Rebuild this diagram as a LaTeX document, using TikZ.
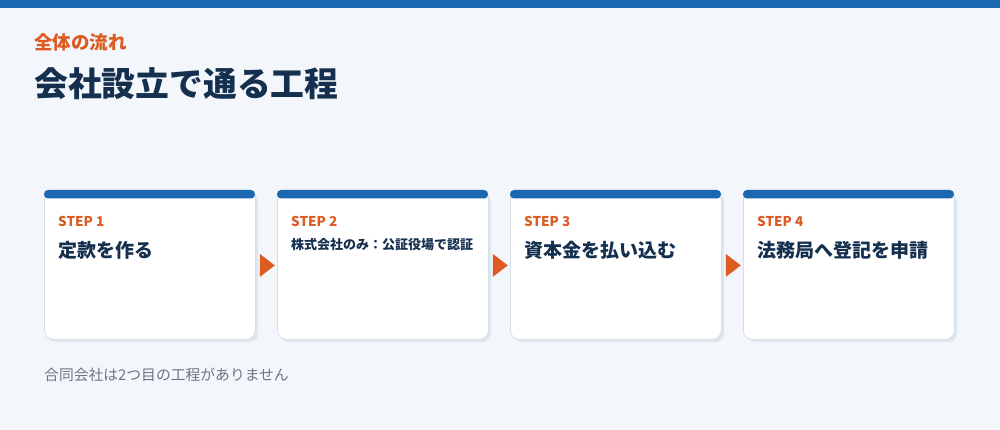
\documentclass[tikz,border=0pt]{standalone}
\usepackage{fontspec}
\setmainfont{Noto Sans CJK JP}
\usetikzlibrary{calc}
\definecolor{bgc}{HTML}{F3F7FB}
\definecolor{bluec}{HTML}{1B67B1}
\definecolor{orangec}{HTML}{DD5A22}
\definecolor{navyc}{HTML}{15304F}
\definecolor{grayc}{HTML}{6C7585}
\definecolor{borderc}{HTML}{D6DEE7}
\definecolor{shadowc}{HTML}{DFE6EE}
\tikzset{
  x=1pt, y=-1pt,
  cardbox/.style={draw=borderc, line width=0.8pt, fill=white, rounded corners=9pt,
    minimum width=211pt, minimum height=149pt, inner sep=0pt, anchor=north west},
  shadowbox/.style={fill=shadowc, rounded corners=9pt,
    minimum width=211pt, minimum height=149pt, inner sep=0pt, anchor=north west},
  topbar/.style={fill=bluec, rounded corners=4pt},
  steplabel/.style={anchor=west, inner sep=0pt, text=orangec, font=\fontsize{13.5}{16}\selectfont\bfseries},
  steptitle/.style={anchor=west, inner sep=0pt, text=navyc, font=\fontsize{19}{22}\selectfont\bfseries},
  steptitlesmall/.style={anchor=west, inner sep=0pt, text=navyc, font=\fontsize{13}{16}\selectfont\bfseries},
  flowarrow/.style={fill=orangec},
}
\begin{document}
\begin{tikzpicture}
\useasboundingbox (0,0) rectangle (1000,430);
\fill[bgc] (0,0) rectangle (1000,430);
\fill[bluec] (0,0) rectangle (1000,8.5);
\node[anchor=west, inner sep=0pt, text=orangec, font=\fontsize{18.5}{21}\selectfont\bfseries] (kicker) at (34,42) {全体の流れ};
\node[anchor=west, inner sep=0pt, text=navyc, font=\fontsize{33.8}{40}\selectfont\bfseries] (title) at (34,83.5) {会社設立で通る工程};

\foreach \i/\x in {1/44, 2/277, 3/510, 4/743} {
  \node[shadowbox] (s\i) at (\x+3,193) {};
  \node[cardbox] (c\i) at (\x,190) {};
  \fill[topbar] (\x,190) rectangle (\x+211,198.5);
  \node[steplabel] (l\i) at (\x+14,221.5) {STEP \i};
}
\node[steptitle] (t1) at (58,250) {定款を作る};
\node[steptitlesmall] (t2) at (291,245) {株式会社のみ：公証役場で認証};
\node[steptitle] (t3) at (524,250) {資本金を払い込む};
\node[steptitle] (t4) at (757,250) {法務局へ登記を申請};

\foreach \a in {1,2,3} {
  \fill[flowarrow] ($(c\a.east)+(4,-11)$) -- ($(c\a.east)+(19,0.5)$) -- ($(c\a.east)+(4,12)$) -- cycle;
}

\node[anchor=west, inner sep=0pt, text=grayc, font=\fontsize{14.8}{17}\selectfont] (note) at (44,375) {合同会社は2つ目の工程がありません};
\end{tikzpicture}
\end{document}
